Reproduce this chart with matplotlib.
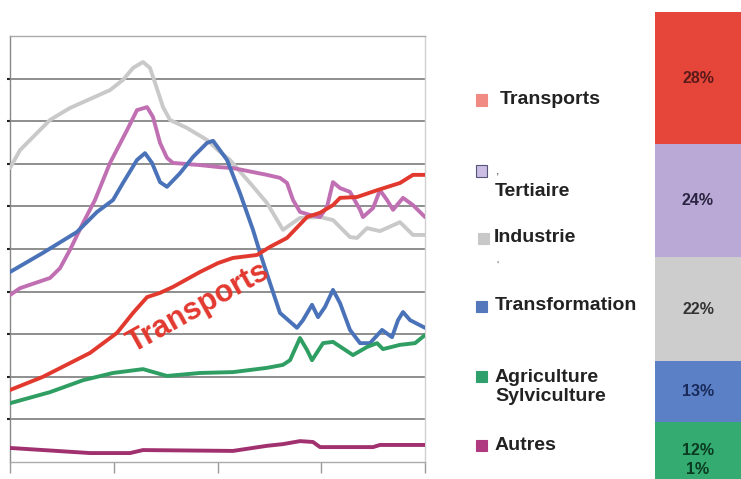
import matplotlib
matplotlib.use("Agg")
import matplotlib.pyplot as plt
from matplotlib.patches import Rectangle

plt.rcParams['font.family'] = ['Liberation Sans', 'DejaVu Sans']

# ---------------- data ----------------
ind_x = [0, 0.96, 3.86, 5.78, 9.64, 10.89, 11.86, 12.82, 13.49, 13.98, 14.75, 15.42, 17.06, 18.99, 20.05,
         21.2, 23.13, 24.77, 26.31, 27.95, 29.88, 31.13, 32.77, 33.45, 34.41, 35.66, 37.59, 38.84, 40]
ind_y = [6.90, 7.32, 8.03, 8.31, 8.73, 8.97, 9.25, 9.39, 9.25, 8.90, 8.33, 8.03, 7.84, 7.56, 7.32,
         7.09, 6.55, 6.08, 5.45, 5.73, 5.75, 5.68, 5.28, 5.26, 5.49, 5.42, 5.63, 5.33, 5.33]

ter_x = [0, 0.96, 3.86, 4.82, 5.78, 7.04, 8.19, 9.64, 11.28, 12.24, 13.21, 13.78, 14.46, 15.13, 15.71,
         18.31, 20.24, 21.49, 24.77, 26.02, 26.7, 27.28, 27.95, 28.92, 29.88, 30.56, 31.13, 31.81,
         32.77, 33.74, 34.02, 34.99, 35.66, 36.34, 36.92, 37.88, 38.84, 40]
ter_y = [3.92, 4.08, 4.32, 4.55, 4.98, 5.61, 6.15, 7.02, 7.79, 8.26, 8.33, 8.10, 7.49, 7.14, 7.02,
         6.97, 6.92, 6.90, 6.74, 6.67, 6.55, 6.15, 5.87, 5.80, 5.75, 5.99, 6.57, 6.43,
         6.34, 5.92, 5.75, 5.96, 6.38, 6.15, 5.92, 6.20, 6.03, 5.75]

tra_x = [0, 3.18, 6.46, 8.39, 9.93, 10.89, 12.24, 13.01, 13.69, 14.46, 15.13, 16.39, 17.64, 18.99, 19.57,
         20.92, 22.17, 23.42, 24.10, 25.06, 26.02, 27.66, 28.24, 29.11, 29.69, 30.36, 31.13, 31.81,
         32.77, 33.74, 34.70, 35.86, 36.82, 37.40, 37.88, 38.56, 40]
tra_y = [4.46, 4.91, 5.40, 5.87, 6.15, 6.55, 7.09, 7.25, 7.02, 6.57, 6.46, 6.78, 7.16, 7.49, 7.54,
         7.09, 6.31, 5.45, 4.91, 4.20, 3.50, 3.15, 3.33, 3.69, 3.40, 3.64, 4.04, 3.73,
         3.10, 2.79, 2.79, 3.10, 2.93, 3.33, 3.52, 3.33, 3.15]

trp_x = [0, 3.18, 7.71, 10.31, 11.86, 13.21, 14.46, 15.71, 18.31, 20.05, 21.49, 23.81, 25.06, 26.31,
         26.7, 28.63, 29.88, 31.13, 31.81, 33.45, 35.38, 37.59, 38.84, 40]
trp_y = [1.69, 2.00, 2.56, 3.03, 3.50, 3.87, 3.97, 4.11, 4.46, 4.67, 4.79, 4.86, 5.05, 5.21,
         5.26, 5.75, 5.85, 6.03, 6.20, 6.22, 6.38, 6.55, 6.74, 6.74]

agr_x = [0, 3.86, 7.04, 9.93, 12.82, 15.13, 18.31, 21.49, 24.77, 26.31, 26.99, 27.95, 28.63, 29.11,
         30.17, 31.13, 33.06, 34.41, 35.38, 35.95, 37.59, 39.04, 40]
agr_y = [1.38, 1.64, 1.92, 2.09, 2.18, 2.02, 2.09, 2.11, 2.21, 2.28, 2.39, 2.91, 2.63, 2.39,
         2.79, 2.82, 2.51, 2.70, 2.79, 2.65, 2.75, 2.79, 2.98]

aut_x = [0, 7.71, 11.57, 12.82, 21.49, 24.77, 26.31, 27.95, 29.2, 29.88, 34.99, 35.66, 40]
aut_y = [0.33, 0.21, 0.21, 0.28, 0.26, 0.38, 0.42, 0.49, 0.47, 0.35, 0.35, 0.40, 0.40]

# stacked share bar (bottom to top)
share_names = ['Autres', 'Agriculture Sylviculture', 'Transformation', 'Industrie', 'Tertiaire', 'Transports']
share_vals = [1, 12, 13, 22, 24, 28]
share_labels = ['1%', '12%', '13%', '22%', '24%', '28%']

legend_names = ['Transports', 'Tertiaire', 'Industrie', 'Transformation', 'Agriculture\nSylviculture', 'Autres']

# ---------------- colours ----------------
c_ind = '#c9c9c9'
c_ter = '#c070b2'
c_tra = '#4a72b8'
c_trp = '#e2392f'
c_agr = '#2f9e62'
c_aut = '#a0306e'

# ---------------- figure ----------------
W, H = 741, 479
fig = plt.figure(figsize=(W / 100, H / 100), dpi=100)
fig.patch.set_facecolor('white')

ax = fig.add_axes([10 / W, (H - 462) / H, 415 / W, 426 / H])
ax.set_xlim(0, 40)
ax.set_ylim(0, 10)

for yv in range(1, 10):
    ax.axhline(yv, color='#707070', lw=1.1, zorder=1)

lw = 2.8
kw = dict(lw=lw, solid_joinstyle='round', solid_capstyle='round', zorder=3)
ax.plot(ind_x, ind_y, color=c_ind, **kw)
ax.plot(ter_x, ter_y, color=c_ter, **kw)
ax.plot(tra_x, tra_y, color=c_tra, **kw)
ax.plot(trp_x, trp_y, color=c_trp, **kw)
ax.plot(agr_x, agr_y, color=c_agr, **kw)
ax.plot(aut_x, aut_y, color=c_aut, **kw)

ax.text(18.2, 3.62, 'Transports', color=c_trp, fontsize=22, fontweight='bold',
        rotation=29, ha='center', va='center', rotation_mode='anchor', zorder=4)

ax.set_xticks([0, 10, 20, 30, 40])
ax.set_xticklabels([])
ax.set_yticks(range(1, 10))
ax.set_yticklabels([])
ax.tick_params(axis='x', direction='out', length=8, width=1, color='#999999')
ax.tick_params(axis='y', direction='out', length=2, width=1.5, color='#222222')
ax.spines['left'].set_color('#888888')
ax.spines['bottom'].set_color('#aaaaaa')
ax.spines['top'].set_color('#aaaaaa')
ax.spines['right'].set_color('#d0d0d0')
for s in ax.spines.values():
    s.set_linewidth(1.0)

# ---------------- legend (manual) ----------------
leg_colors = ['#f08a82', '#cbbde3', '#c8c8c8', '#5577bb', '#2fa06c', '#b03a80']
leg_sq_y = [100, 171, 238, 306, 376, 445]
leg_sq_x = [481, 481, 483, 481, 481, 481]
leg_txt_y = [100, 192, 238, 306, 387, 445]
leg_txt_x = [500, 495, 494, 495, 495, 495]
for col, sx, sy, ty, tx, name in zip(leg_colors, leg_sq_x, leg_sq_y, leg_txt_y, leg_txt_x, legend_names):
    sq = 11
    ec = '#555577' if name == 'Tertiaire' else col
    fig.patches.append(Rectangle(((sx - sq / 2) / W, (H - sy - sq / 2) / H), sq / W, sq / H,
                                 transform=fig.transFigure, facecolor=col, edgecolor=ec, lw=0.8))
    fig.text(tx / W, (H - ty) / H, name, fontsize=14, fontweight='bold', color='#222222',
             ha='left', va='center', linespacing=1.2)
fig.text(496 / W, (H - 172) / H, ',', fontsize=9, color='#444444', ha='left', va='center')
fig.text(496 / W, (H - 266) / H, "'", fontsize=8, color='#666666', ha='left', va='center')

# ---------------- stacked bar ----------------
bx = fig.add_axes([655 / W, 0, (W - 655) / W, 1])
bx.set_xlim(0, 1)
bx.set_ylim(1, 102.54)
bx.axis('off')
bar_colors = [c_aut, '#34ab70', '#5b80c6', '#cdcdcd', '#baa9d6', '#e6463a']
txt_colors = ['#0a3a20', '#0a3a20', '#1a2a5a', '#333333', '#2a2440', '#5a1a1a']
bottom = 0
for v, c, lab, tc in zip(share_vals, bar_colors, share_labels, txt_colors):
    bx.bar(0.5, v, bottom=bottom, width=1.0, color=c, edgecolor='none')
    if lab != '1%':
        bx.text(0.5, bottom + v / 2, lab, ha='center', va='center', fontsize=11.5,
                fontweight='bold', color=tc)
    bottom += v
bx.text(0.5, 3.0, share_labels[0], ha='center', va='center', fontsize=11.5,
        fontweight='bold', color=txt_colors[0])

fig.savefig('out.png', dpi=100, facecolor='white')
